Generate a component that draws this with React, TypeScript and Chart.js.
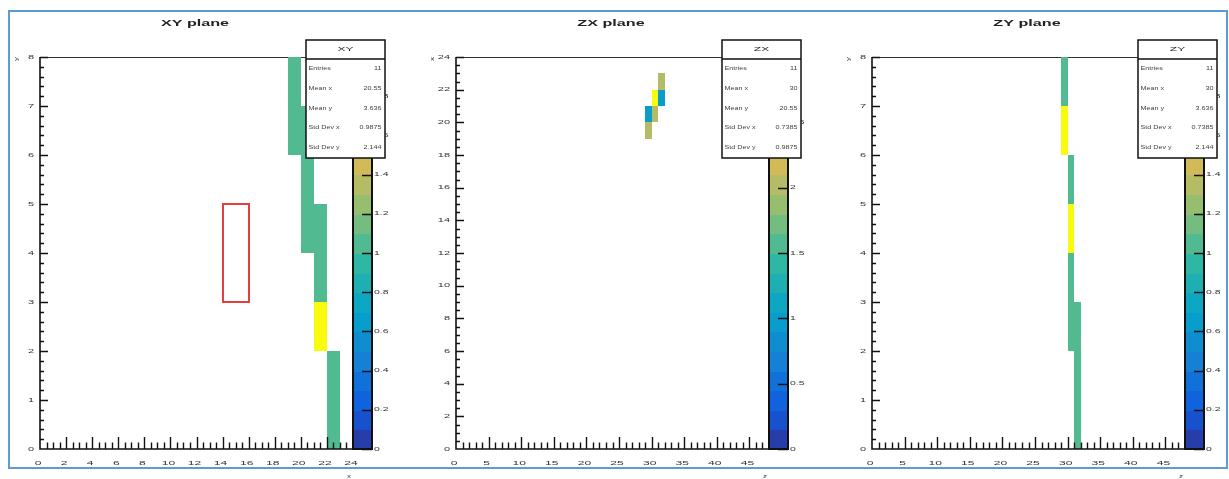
import { useEffect, useRef } from 'react';
import { Chart, registerables } from 'chart.js';

Chart.register(...registerables);

// ---- histogram contents (lower bin edges, unit-width bins) ----
const xyBinX = [19, 19, 20, 20, 20, 21, 21, 21, 22, 22];
const xyBinY = [6, 7, 4, 5, 6, 2, 3, 4, 0, 1];
const xyCounts = [1, 1, 1, 1, 1, 2, 1, 1, 1, 1];

const zxBinZ = [29, 29, 30, 30, 31, 31];
const zxBinX = [19, 20, 20, 21, 21, 22];
const zxCounts = [2, 1, 2, 3, 1, 2];

const zyBinZ = [29, 29, 30, 30, 30, 30, 31, 31, 31];
const zyBinY = [6, 7, 2, 3, 4, 5, 0, 1, 2];
const zyCounts = [2, 1, 1, 1, 2, 1, 1, 1, 1];

// ---- axis tick labels ----
const xyXTicks = [0, 2, 4, 6, 8, 10, 12, 14, 16, 18, 20, 22, 24];
const xyYTicks = [0, 1, 2, 3, 4, 5, 6, 7, 8];
const zTicks = [0, 5, 10, 15, 20, 25, 30, 35, 40, 45];
const zxYTicks = [0, 2, 4, 6, 8, 10, 12, 14, 16, 18, 20, 22, 24];
const zyYTicks = [0, 1, 2, 3, 4, 5, 6, 7, 8];
const xyPalTicks = [0, 0.2, 0.4, 0.6, 0.8, 1, 1.2, 1.4, 1.6, 1.8];
const zxPalTicks = [0, 0.5, 1, 1.5, 2, 2.5];
const zyPalTicks = [0, 0.2, 0.4, 0.6, 0.8, 1, 1.2, 1.4, 1.6, 1.8];

// selection window drawn on the XY plane: [xLow, xHigh, yLow, yHigh]
const xyWindow = [14, 16, 3, 5];

// ---- bird colour map ----
const BIRD_STOPS = [0, 0.125, 0.25, 0.375, 0.5, 0.625, 0.75, 0.875, 1];
const BIRD_R = [0.2082, 0.0592, 0.078, 0.0232, 0.1802, 0.5301, 0.8186, 0.9956, 0.9764];
const BIRD_G = [0.1664, 0.3599, 0.5041, 0.6419, 0.7178, 0.7492, 0.7328, 0.7862, 0.9832];
const BIRD_B = [0.5293, 0.8684, 0.8385, 0.7914, 0.6425, 0.4662, 0.3499, 0.1968, 0.0539];
const N_COLORS = 255;
const N_CONTOURS = 20;

function bird(t: number): string {
  let k = 0;
  while (k < BIRD_STOPS.length - 2 && t > BIRD_STOPS[k + 1]) k++;
  const f = (t - BIRD_STOPS[k]) / (BIRD_STOPS[k + 1] - BIRD_STOPS[k]);
  const c = (a: number[]) => Math.round(255 * (a[k] + f * (a[k + 1] - a[k])));
  return `rgb(${c(BIRD_R)},${c(BIRD_G)},${c(BIRD_B)})`;
}
function bandColor(i: number): string {
  const idx = Math.min(N_COLORS - 1, Math.floor((i + 0.99) * N_COLORS / N_CONTOURS));
  return bird(idx / (N_COLORS - 1));
}
function valueColor(v: number, zmax: number): string {
  if (v >= zmax) return bird(1);
  return bandColor(Math.floor(0.01 + v * N_CONTOURS / zmax));
}

function fmt(v: number): string {
  return Number(v.toPrecision(4)).toString();
}

const FONT = '"Liberation Sans", Arial, Helvetica, sans-serif';

function text(
  ctx: CanvasRenderingContext2D, s: string, x: number, y: number,
  size: number, sx: number, align: 'left' | 'center' | 'right',
  color = '#333', bold = false, rot = 0,
) {
  ctx.save();
  ctx.font = `${bold ? 'bold ' : ''}${size}px ${FONT}`;
  ctx.fillStyle = color;
  ctx.textBaseline = 'middle';
  ctx.textAlign = 'left';
  const w = ctx.measureText(s).width * sx;
  ctx.translate(x, y);
  if (rot) ctx.rotate(rot);
  const x0 = align === 'center' ? -w / 2 : align === 'right' ? -w : 0;
  ctx.translate(x0, 0);
  ctx.scale(sx, 1);
  ctx.fillText(s, 0, 0);
  ctx.restore();
}

function stats(xs: number[], ys: number[], w: number[]) {
  const n = w.reduce((a, b) => a + b, 0);
  const m = (a: number[]) => a.reduce((s, v, i) => s + v * w[i], 0) / n;
  const sd = (a: number[], mu: number) =>
    Math.sqrt(a.reduce((s, v, i) => s + w[i] * (v - mu) * (v - mu), 0) / n);
  const mx = m(xs);
  const my = m(ys);
  return [
    ['Entries', fmt(n)],
    ['Mean x', fmt(mx)],
    ['Mean y', fmt(my)],
    ['Std Dev x', fmt(sd(xs, mx))],
    ['Std Dev y', fmt(sd(ys, my))],
  ];
}

const pads = [
  {
    title: 'XY plane', name: 'XY', bx: xyBinX, by: xyBinY, bc: xyCounts,
    xMax: 24, yMax: 8, xTicks: xyXTicks, xMinor: 0.5, yTicks: xyYTicks, yMinor: 0.2,
    palTicks: xyPalTicks, xTitle: 'x', yTitle: 'y', window: xyWindow,
  },
  {
    title: 'ZX plane', name: 'ZX', bx: zxBinZ, by: zxBinX, bc: zxCounts,
    xMax: 48, yMax: 24, xTicks: zTicks, xMinor: 1, yTicks: zxYTicks, yMinor: 0.5,
    palTicks: zxPalTicks, xTitle: 'z', yTitle: 'x', window: null,
  },
  {
    title: 'ZY plane', name: 'ZY', bx: zyBinZ, by: zyBinY, bc: zyCounts,
    xMax: 48, yMax: 8, xTicks: zTicks, xMinor: 1, yTicks: zyYTicks, yMinor: 0.2,
    palTicks: zyPalTicks, xTitle: 'z', yTitle: 'y', window: null,
  },
];

const PAD_LEFT = [0, 416, 832];
const PAD_WIDTH = [416, 416, 397];
const H = 479;
const FRAME_L = 40;
const FRAME_R = 353;
const FRAME_T = 57;
const FRAME_B = 449;
const PAL_R = 372;
const BOX = { l: 306, r: 385, t: 40, b: 158, head: 59 };

const padPlugin = {
  id: 'rootPad',
  afterDraw(chart: any, _args: any, o: any) {
    const ctx: CanvasRenderingContext2D = chart.ctx;
    const xs = chart.scales.x;
    const ys = chart.scales.y;
    const { left, right, top, bottom } = chart.chartArea;
    const data = chart.data.datasets[0].data as { x: number; y: number; v: number }[];
    const zmax = Math.max(...data.map((d) => d.v));

    // title
    text(ctx, o.title, 195, 23, 9.5, 1.7, 'center', '#222', true);

    // frame top edge
    ctx.strokeStyle = '#333';
    ctx.lineWidth = 1;
    ctx.beginPath();
    ctx.moveTo(left, top + 0.5);
    ctx.lineTo(right, top + 0.5);
    ctx.stroke();

    // bins
    for (const d of data) {
      const x0 = Math.round(xs.getPixelForValue(d.x));
      const x1 = Math.round(xs.getPixelForValue(d.x + 1));
      const y0 = Math.round(ys.getPixelForValue(d.y + 1));
      const y1 = Math.round(ys.getPixelForValue(d.y));
      ctx.fillStyle = valueColor(d.v, zmax);
      ctx.fillRect(x0, y0, x1 - x0, y1 - y0);
    }

    // selection window
    if (o.window) {
      const [a, b, c, e] = o.window;
      ctx.strokeStyle = '#e2403e';
      ctx.lineWidth = 2;
      ctx.strokeRect(
        Math.round(xs.getPixelForValue(a)), Math.round(ys.getPixelForValue(e)),
        Math.round(xs.getPixelForValue(b) - xs.getPixelForValue(a)),
        Math.round(ys.getPixelForValue(c) - ys.getPixelForValue(e)),
      );
    }

    // axes
    ctx.strokeStyle = '#111';
    ctx.lineWidth = 1.6;
    ctx.beginPath();
    ctx.moveTo(left, top);
    ctx.lineTo(left, bottom);
    ctx.lineTo(right, bottom);
    ctx.stroke();

    ctx.lineWidth = 1.4;
    ctx.beginPath();
    const nxMinor = Math.round(o.xMax / o.xMinor);
    for (let i = 1; i < nxMinor; i++) {
      const v = i * o.xMinor;
      const major = o.xTicks.some((t: number) => Math.abs(t - v) < 1e-6);
      const px = Math.round(xs.getPixelForValue(v)) + 0.5;
      ctx.moveTo(px, bottom);
      ctx.lineTo(px, bottom - (major ? 12 : 6.5));
    }
    const nyMinor = Math.round(o.yMax / o.yMinor);
    for (let i = 1; i <= nyMinor; i++) {
      const v = i * o.yMinor;
      const major = o.yTicks.some((t: number) => Math.abs(t - v) < 1e-6);
      const py = Math.round(ys.getPixelForValue(v)) + 0.5;
      ctx.moveTo(left, py);
      ctx.lineTo(left + (major ? 8 : 4), py);
    }
    ctx.stroke();

    for (const t of o.xTicks) {
      text(ctx, String(t), xs.getPixelForValue(t) - 2, 463, 5.5, 2.2, 'center');
    }
    for (const t of o.yTicks) {
      text(ctx, String(t), left - 6, ys.getPixelForValue(t), 5.5, 2, 'right');
    }
    text(ctx, o.xTitle, right - 4, 477, 5, 1.6, 'center');
    text(ctx, o.yTitle, 17, top + 2, 5, 1.6, 'center', '#333', false, -Math.PI / 2);

    // colour palette
    const palL = right;
    const palW = PAL_R - right;
    const band = (bottom - top) / N_CONTOURS;
    for (let i = 0; i < N_CONTOURS; i++) {
      ctx.fillStyle = bandColor(i);
      const yb = bottom - i * band;
      ctx.fillRect(palL, Math.floor(yb - band), palW, Math.ceil(band) + 1);
    }
    ctx.strokeStyle = '#111';
    ctx.lineWidth = 2;
    ctx.beginPath();
    ctx.moveTo(palL, top);
    ctx.lineTo(palL, bottom);
    ctx.lineTo(PAL_R, bottom);
    ctx.lineTo(PAL_R, top);
    ctx.stroke();
    ctx.lineWidth = 1.4;
    ctx.beginPath();
    for (const t of o.palTicks) {
      const py = Math.round(bottom - (t / zmax) * (bottom - top)) + 0.5;
      ctx.moveTo(PAL_R - 10, py);
      ctx.lineTo(PAL_R, py);
    }
    ctx.stroke();
    for (const t of o.palTicks) {
      const py = bottom - (t / zmax) * (bottom - top);
      text(ctx, String(t), PAL_R + 2, py, 5.5, 1.9, 'left');
    }

    // statistics box
    ctx.fillStyle = '#fff';
    ctx.fillRect(BOX.l, BOX.t, BOX.r - BOX.l, BOX.b - BOX.t);
    ctx.strokeStyle = '#111';
    ctx.lineWidth = 1.5;
    ctx.strokeRect(BOX.l, BOX.t, BOX.r - BOX.l, BOX.b - BOX.t);
    ctx.beginPath();
    ctx.moveTo(BOX.l, BOX.head);
    ctx.lineTo(BOX.r, BOX.head);
    ctx.stroke();
    text(ctx, o.name, (BOX.l + BOX.r) / 2, 49.5, 6, 2, 'center', '#222');
    const rows = stats(data.map((d) => d.x), data.map((d) => d.y), data.map((d) => d.v));
    rows.forEach(([k, v], i) => {
      const y = 69 + i * 19.7;
      text(ctx, k, BOX.l + 2.5, y, 4.5, 1.6, 'left', '#444');
      text(ctx, v, BOX.r - 3.5, y, 4.5, 1.6, 'right', '#444');
    });
  },
};

export default function App() {
  const refs = [useRef<HTMLCanvasElement>(null), useRef<HTMLCanvasElement>(null), useRef<HTMLCanvasElement>(null)];

  useEffect(() => {
    document.body.style.overflow = 'hidden';
    const charts = pads.map((p, i) => {
      const canvas = refs[i].current!;
      const w = PAD_WIDTH[i];
      return new Chart(canvas, {
        type: 'scatter',
        data: {
          datasets: [{
            data: p.bx.map((x, k) => ({ x, y: p.by[k], v: p.bc[k] })),
            pointRadius: 0,
            pointHoverRadius: 0,
          }],
        },
        options: {
          responsive: false,
          animation: false,
          devicePixelRatio: 1,
          events: [],
          layout: { padding: { left: FRAME_L, right: w - FRAME_R, top: FRAME_T, bottom: H - FRAME_B } },
          scales: {
            x: { type: 'linear', min: 0, max: p.xMax, display: false },
            y: { type: 'linear', min: 0, max: p.yMax, display: false },
          },
          plugins: {
            legend: { display: false },
            tooltip: { enabled: false },
            rootPad: p,
          } as any,
        },
        plugins: [padPlugin],
      });
    });
    return () => charts.forEach((c) => c.destroy());
  }, []);

  return (
    <div style={{ position: 'absolute', left: 0, top: 0, width: 1229, height: H, overflow: 'hidden', background: '#fff' }}>
      {pads.map((p, i) => (
        <canvas
          key={p.name}
          ref={refs[i]}
          width={PAD_WIDTH[i]}
          height={H}
          style={{ position: 'absolute', left: PAD_LEFT[i], top: 0, width: PAD_WIDTH[i], height: H }}
        />
      ))}
      <div
        style={{
          position: 'absolute', left: 8, top: 10, width: 1216, height: 455,
          border: '2px solid #5a9bd8', pointerEvents: 'none',
        }}
      />
    </div>
  );
}
